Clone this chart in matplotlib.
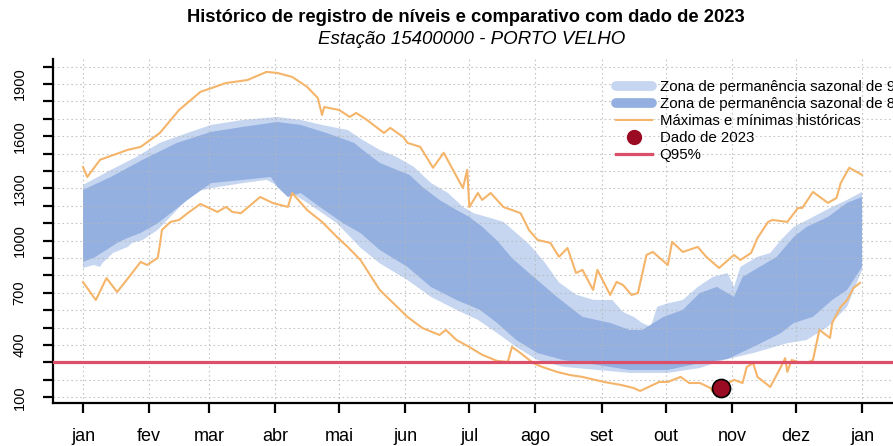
import numpy as np
import matplotlib.pyplot as plt
from matplotlib.lines import Line2D

plt.rcParams['font.family'] = ['Liberation Sans', 'DejaVu Sans']

# ---------------- dados ----------------
meses = ['jan', 'fev', 'mar', 'abr', 'mai', 'jun', 'jul', 'ago', 'set', 'out', 'nov', 'dez', 'jan']
dias_meses = [1, 32, 60, 91, 121, 152, 182, 213, 244, 274, 305, 335, 366]

yticks = list(range(100, 2001, 100))
ylabels = ['100', '', '', '400', '', '', '700', '', '', '1000', '', '',
           '1300', '', '', '1600', '', '', '1900', '']

# máximas históricas
max_dias = [1, 3, 9, 22, 28, 37, 46, 56, 68, 78, 87, 92, 99, 106, 111, 113, 114, 121, 126, 129,
            134, 142, 145, 151, 153, 159, 165, 170, 179, 181, 182, 186, 188, 192, 198, 202, 206,
            210, 214, 220, 224, 228, 232, 235, 240, 242, 248, 251, 254, 258, 261, 265, 268, 275,
            277, 282, 289, 293, 299, 306, 309, 314, 317, 322, 324, 331, 336, 338, 343, 350, 354,
            356, 360, 366]
max_vals = [1423, 1366, 1465, 1522, 1539, 1619, 1751, 1855, 1906, 1923, 1970, 1964, 1941, 1884,
            1820, 1722, 1768, 1751, 1711, 1734, 1694, 1619, 1648, 1596, 1562, 1539, 1419, 1505,
            1302, 1407, 1193, 1274, 1234, 1274, 1193, 1176, 1158, 1060, 1004, 987, 907, 958, 814,
            832, 717, 832, 688, 763, 745, 688, 699, 918, 935, 860, 993, 935, 964, 907, 843, 918,
            889, 929, 1015, 1108, 1119, 1108, 1188, 1188, 1280, 1217, 1245, 1331, 1419, 1378]

# mínimas históricas
min_dias = [1, 7, 12, 17, 24, 28, 31, 36, 37, 38, 42, 46, 50, 56, 64, 68, 71, 75, 84, 90, 97, 99,
            106, 113, 120, 125, 131, 140, 153, 160, 168, 171, 176, 182, 188, 195, 200, 202, 206,
            212, 216, 223, 229, 235, 245, 253, 259, 262, 271, 275, 281, 285, 290, 295, 296, 306,
            310, 312, 315, 317, 323, 328, 330, 331, 333, 336, 340, 343, 346, 351, 352, 356, 359,
            362, 365]
min_vals = [762, 659, 785, 705, 814, 878, 860, 901, 975, 1062, 1108, 1119, 1158, 1211, 1165, 1194,
            1165, 1158, 1251, 1216, 1194, 1274, 1176, 1108, 1021, 964, 889, 717, 562, 498, 458,
            487, 429, 389, 344, 309, 303, 389, 354, 296, 275, 246, 228, 217, 188, 171, 153, 136,
            188, 188, 217, 182, 182, 153, 131, 200, 182, 275, 296, 217, 159, 275, 325, 246, 314,
            303, 296, 314, 487, 441, 527, 620, 659, 728, 757]

# zona sazonal 90% (clara)
z90_sup_dias = [1, 14, 26, 37, 50, 61, 76, 92, 103, 113, 125, 132, 140, 148, 156, 164, 172, 179,
                184, 192, 198, 204, 210, 217, 224, 232, 240, 245, 249, 254, 259, 263, 267, 270,
                275, 282, 289, 296, 303, 306, 309, 317, 323, 328, 334, 343, 352, 359, 366]
z90_sup = [1320, 1406, 1481, 1562, 1619, 1665, 1694, 1711, 1694, 1665, 1636, 1579, 1522, 1481,
           1424, 1332, 1274, 1194, 1158, 1130, 1108, 1044, 980, 880, 760, 690, 660, 659, 659, 590,
           562, 527, 505, 620, 640, 659, 734, 791, 814, 734, 849, 907, 929, 1004, 1079, 1136,
           1194, 1234, 1280]
z90_inf_dias = [1, 6, 9, 10, 15, 22, 24, 29, 36, 45, 53, 61, 76, 87, 99, 109, 120, 131, 140, 153,
                164, 176, 186, 195, 204, 214, 226, 242, 257, 275, 290, 301, 315, 331, 340, 350,
                359, 366]
z90_inf = [843, 860, 849, 870, 929, 964, 987, 1004, 1062, 1176, 1280, 1302, 1331, 1349, 1274,
           1193, 1100, 960, 870, 774, 677, 602, 545, 469, 389, 314, 275, 257, 240, 240, 268, 314,
           354, 411, 429, 505, 620, 832]

# zona sazonal 80% (escura)
z80_sup_dias = [1, 14, 29, 45, 61, 76, 92, 103, 115, 128, 132, 140, 148, 154, 160, 168, 176, 182,
                188, 195, 202, 210, 223, 235, 248, 257, 263, 273, 282, 290, 298, 306, 310, 318,
                326, 334, 340, 350, 359, 366]
z80_sup = [1291, 1366, 1465, 1562, 1625, 1654, 1682, 1665, 1619, 1562, 1522, 1447, 1407, 1378,
           1309, 1234, 1176, 1136, 1080, 1000, 900, 814, 677, 562, 527, 487, 487, 562, 602, 699,
           734, 677, 791, 849, 907, 1021, 1079, 1136, 1217, 1251]
z80_inf_dias = [1, 6, 12, 17, 22, 28, 36, 50, 61, 76, 89, 92, 97, 103, 112, 123, 131, 140, 153,
                164, 176, 187, 195, 204, 214, 226, 242, 257, 275, 290, 303, 315, 328, 334, 343,
                352, 359, 366]
z80_inf = [878, 901, 947, 987, 1016, 1044, 1100, 1234, 1331, 1349, 1366, 1309, 1251, 1274, 1193,
           1100, 1044, 947, 849, 734, 659, 602, 527, 429, 354, 314, 286, 257, 257, 296, 320, 389,
           469, 527, 562, 659, 717, 849]

q95 = 300
dado_dia = [300]
dado_val = [153]

# ---------------- figura ----------------
fig = plt.figure(figsize=(8.93, 4.46), dpi=100)
ax = fig.add_axes([53/893, 43/446, 840/893, 344/446])

c_claro = '#c6d6f0'
c_escuro = '#93b0e1'
c_laranja = '#f4b56a'
c_vermelho = '#db4f68'
c_ponto = '#9a0a22'

ax.fill(np.concatenate([z90_sup_dias, z90_inf_dias[::-1]]),
        np.concatenate([z90_sup, z90_inf[::-1]]), color=c_claro, lw=0, zorder=1)
ax.fill(np.concatenate([z80_sup_dias, z80_inf_dias[::-1]]),
        np.concatenate([z80_sup, z80_inf[::-1]]), color=c_escuro, lw=0, zorder=2)

ax.plot(max_dias, max_vals, color=c_laranja, lw=1.5, zorder=3)
ax.plot(min_dias, min_vals, color=c_laranja, lw=1.5, zorder=3)
ax.axhline(q95, color=c_vermelho, lw=2.3, zorder=4)
ax.plot(dado_dia, dado_val, 'o', ms=13, mfc=c_ponto, mec='black', mew=1.2, zorder=5)

ax.set_xlim(-13.06, 380.5)
ax.set_ylim(67, 2044)

for d in dias_meses:
    ax.axvline(d, color='#b8b8b8', lw=0.8, ls=(0, (1.5, 2.5)), zorder=2.5, alpha=0.8)
for v in yticks:
    ax.axhline(v, color='#b8b8b8', lw=0.8, ls=(0, (1.5, 2.5)), zorder=2.5, alpha=0.8)

ax.set_xticks(dias_meses)
ax.set_xticklabels(meses, fontsize=13)
ax.set_yticks(yticks)
ax.set_yticklabels(ylabels, fontsize=10.5, rotation=90, va='center')
ax.tick_params(axis='x', length=7, width=1.6, pad=11)
ax.tick_params(axis='y', length=7, width=1.6, pad=12)

ax.spines['top'].set_visible(False)
ax.spines['right'].set_visible(False)
ax.spines['left'].set_linewidth(1.6)
ax.spines['bottom'].set_linewidth(1.6)

fig.text(466/893, 1 - 18/446, 'Histórico de registro de níveis e comparativo com dado de 2023',
         ha='center', va='center', fontsize=13.2, fontweight='bold')
fig.text(472/893, 1 - 40/446, 'Estação 15400000 - PORTO VELHO',
         ha='center', va='center', fontsize=13.5, style='italic')

handles = [
    Line2D([], [], color=c_claro, lw=7, solid_capstyle='round'),
    Line2D([], [], color=c_escuro, lw=7, solid_capstyle='round'),
    Line2D([], [], color=c_laranja, lw=1.5),
    Line2D([], [], color=c_ponto, marker='o', ls='none', ms=10),
    Line2D([], [], color=c_vermelho, lw=2.3),
]
labels = ['Zona de permanência sazonal de 90%', 'Zona de permanência sazonal de 80%',
          'Máximas e mínimas históricas', 'Dado de 2023', 'Q95%']
fig.legend(handles, labels, loc='upper left', bbox_to_anchor=(616/893, 1 - 80/446),
           frameon=False, fontsize=10.8, borderpad=0, borderaxespad=0, labelspacing=0.2,
           handlelength=2.4, handletextpad=0.5)

fig.savefig('out.png', dpi=100)
